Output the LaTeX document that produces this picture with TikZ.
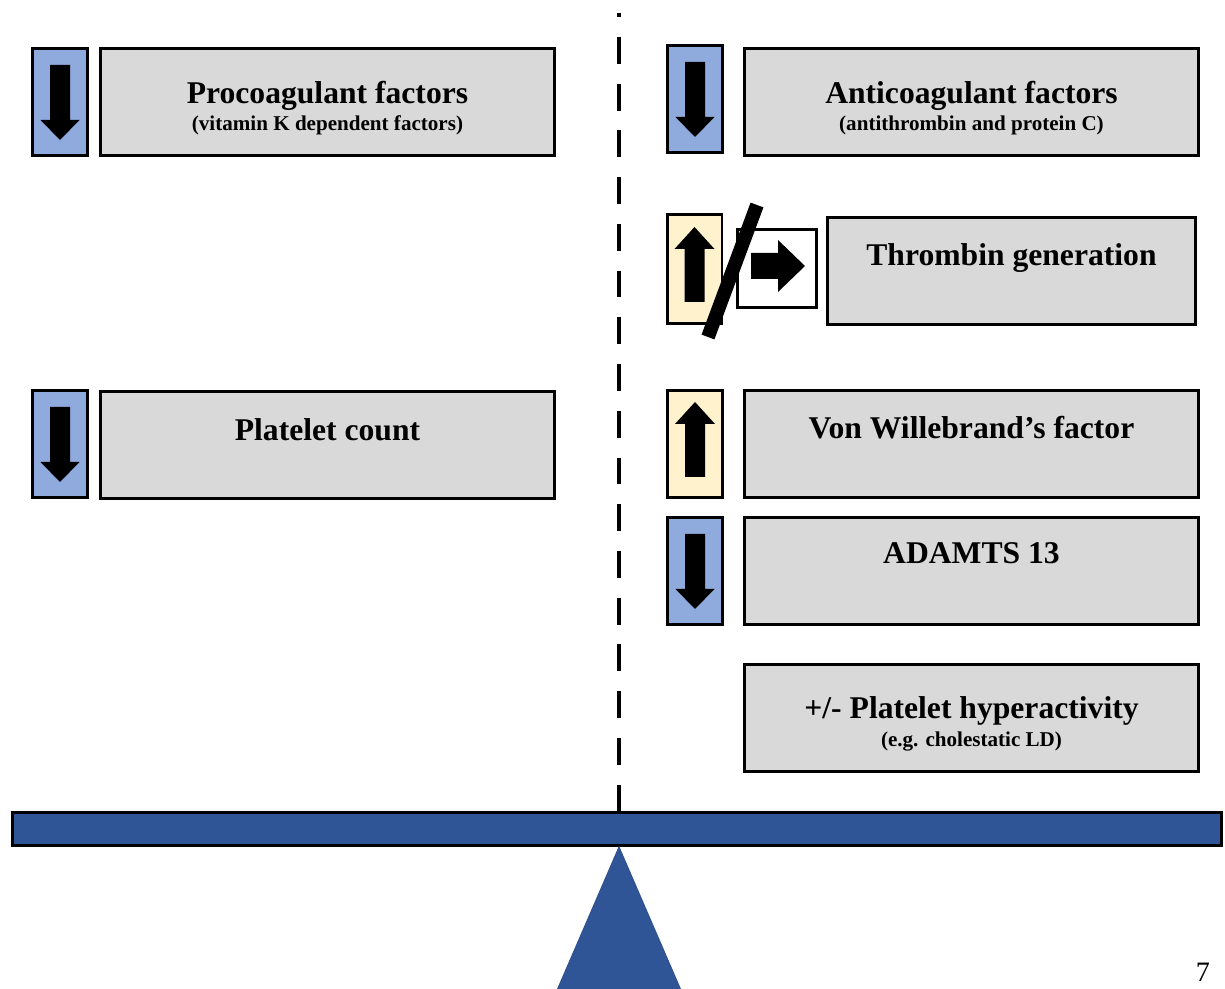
\documentclass[tikz,border=0pt]{standalone}
\usepackage{fontspec}
\setmainfont{Liberation Serif}
\usetikzlibrary{positioning}
\definecolor{boxgrey}{HTML}{D9D9D9}
\definecolor{downblue}{HTML}{8FAADC}
\definecolor{upyellow}{HTML}{FFF2CC}
\definecolor{beamblue}{HTML}{2F5597}
\definecolor{pivotline}{HTML}{2F528F}
\tikzset{
  downarr/.pic={\fill[black] (-10,-37) -- (10,-37) -- (10,18) -- (19.5,18) -- (0,38) -- (-19.5,18) -- (-10,18) -- cycle;},
  uparr/.pic={\fill[black] (-10,33) -- (10,33) -- (10,-20) -- (20,-20) -- (0,-42) -- (-20,-20) -- (-10,-20) -- cycle;},
  rightarr/.pic={\fill[black] (-26,-15.5) -- (1,-15.5) -- (1,-28.5) -- (28,-2.5) -- (1,23.5) -- (1,10.5) -- (-26,10.5) -- cycle;}
}

\begin{document}
\begin{tikzpicture}[x=0.02cm,y=-0.02cm,
      greybox/.style={rectangle, draw=black, line width=1.7pt, fill=boxgrey, minimum width=9.08cm, minimum height=2.14cm, inner sep=0pt},
      downbox/.style={rectangle, draw=black, line width=1.7pt, fill=downblue, minimum width=1.1cm, minimum height=2.14cm, inner sep=0pt},
      upbox/.style={downbox, fill=upyellow},
      title/.style={anchor=base, font=\fontsize{18}{20}\selectfont\bfseries},
      subtitle/.style={anchor=base, font=\fontsize{12}{14}\selectfont\bfseries}]

\useasboundingbox (0,0) rectangle (1225,989);

% middle line
\coordinate (mtop) at (619,13);
\coordinate (mbot) at (619,811);
\draw[line width=2.8pt, dash pattern=on 15.3pt off 11.3pt, dash phase=13pt] (mtop) -- (mbot);

% left side
\node[downbox] (i1) at (60,102) {};
\pic at (i1.center) {downarr};
\node[greybox] (proc) at (327.5,102) {};
\node[title] (proct) at ([yshift=-0.03cm]proc.center) {Procoagulant factors};
\node[subtitle] (procs) at ([yshift=-0.58cm]proc.center) {(vitamin K dependent factors)};

\node[downbox] (i4) at (60,444) {};
\pic at (i4.center) {downarr};
\node[greybox] (plat) at (327.5,445) {};
\node[title] (platt) at ([yshift=0.08cm]plat.center) {Platelet count};

% right side
\node[downbox] (i2) at (695,99) {};
\pic at (i2.center) {downarr};
\node[greybox] (anti) at (971.5,102) {};
\node[title] (antit) at ([yshift=-0.03cm]anti.center) {Anticoagulant factors};
\node[subtitle] (antis) at ([yshift=-0.58cm]anti.center) {(antithrombin and protein C)};

\node[upbox, minimum height=2.18cm] (i3) at (694.5,269) {};
\pic at (i3.center) {uparr};
\node[rectangle, draw=black, line width=1.7pt, fill=white, minimum width=1.58cm, minimum height=1.56cm] (wb) at (777,268.5) {};
\pic at (wb.center) {rightarr};
\coordinate (s1) at (757,205);
\coordinate (s2) at (708,337);
\draw[line width=7.8pt] (s1) -- (s2);
\node[greybox, minimum width=7.36cm] (throm) at (1011.5,271) {};
\node[title] (thromt) at ([yshift=0.1cm]throm.center) {Thrombin generation};

\node[upbox] (i5) at (695,444) {};
\pic at (i5.center) {uparr};
\node[greybox] (vwf) at (971.5,444) {};
\node[title] (vwft) at ([yshift=0.1cm]vwf.center) {Von Willebrand’s factor};

\node[downbox] (i6) at (695,571) {};
\pic at (i6.center) {downarr};
\node[greybox] (adam) at (971.5,571) {};
\node[title] (adamt) at ([yshift=0.14cm]adam.center) {ADAMTS 13};

\node[greybox] (hyp) at (971.5,718) {};
\node[title] (hypt) at ([yshift=-0.02cm]hyp.center) {+/- Platelet hyperactivity};
\node[subtitle] (hyps) at ([yshift=-0.58cm]hyp.center) {(e.g. cholestatic LD)};

% balance
\node[rectangle, draw=black, line width=1.7pt, fill=beamblue, minimum width=24.2cm, minimum height=0.66cm, inner sep=0pt] (beam) at (617,829) {};
\fill[beamblue, draw=pivotline, line width=0.6pt] (beam.south -| 619,0) -- (555,995) -- (683,995) -- cycle;

\node[anchor=base, font=\fontsize{16}{18}\selectfont, inner sep=1pt] (page) at (1203,982) {7};

\end{tikzpicture}
\end{document}
